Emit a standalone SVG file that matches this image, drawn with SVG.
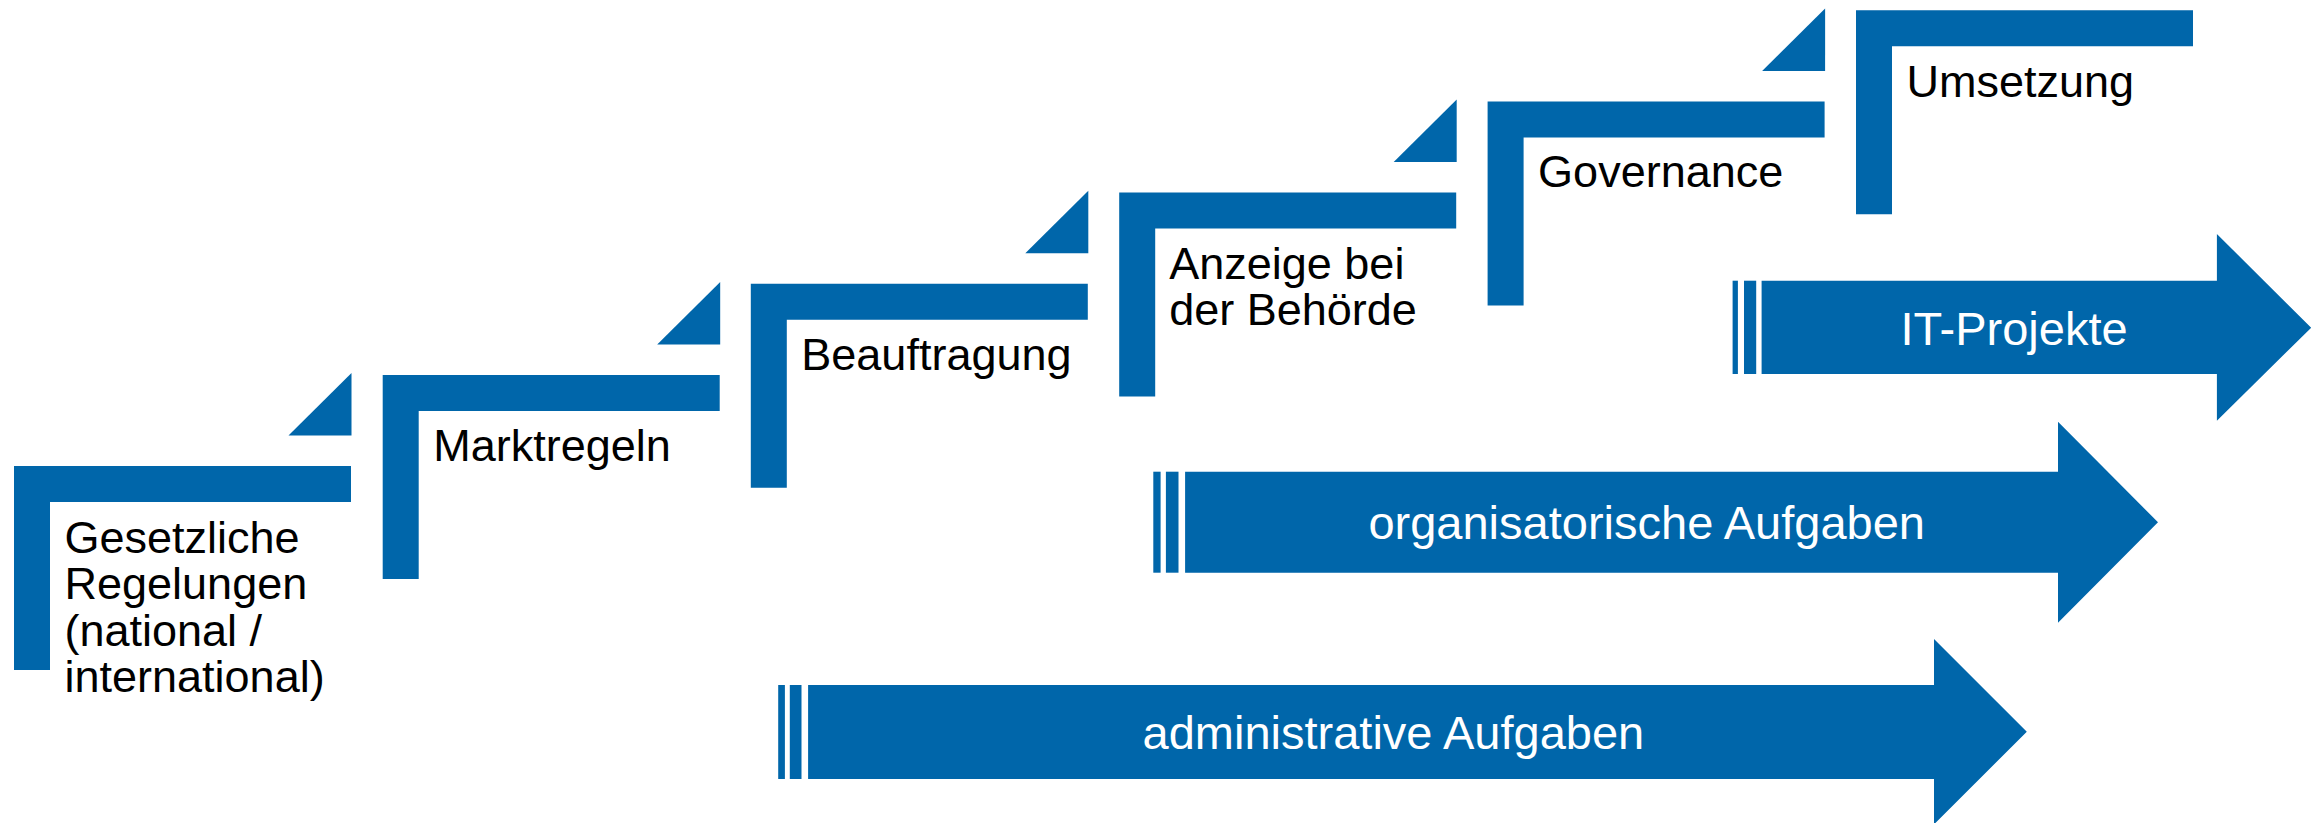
<svg xmlns="http://www.w3.org/2000/svg" width="2318" height="823" viewBox="0 0 2318 823">
<style>
.b{fill:#0066AA}
.st{font-family:"Liberation Sans",Arial,sans-serif;font-size:45px;fill:#000}
.at{font-family:"Liberation Sans",Arial,sans-serif;font-size:47px;fill:#fff;text-anchor:middle}
</style>
<defs>
<polygon id="L" points="0,0 337,0 337,36 36,36 36,204 0,204"/>
<polygon id="T" points="337.5,-93 337.5,-30.5 274.5,-30.5"/>
</defs>
<rect width="2318" height="823" fill="#fff"/>
<g id="step1" transform="translate(14,466)">
<use href="#L" class="b"/><use href="#T" class="b"/>
<text class="st" x="50.5" y="86.5">Gesetzliche</text>
<text class="st" x="50.5" y="133">Regelungen</text>
<text class="st" x="50.5" y="179.5">(national /</text>
<text class="st" x="50.5" y="226">international)</text>
</g>
<g id="step2" transform="translate(382.7,375)">
<use href="#L" class="b"/><use href="#T" class="b"/>
<text class="st" x="50.5" y="86">Marktregeln</text>
</g>
<g id="step3" transform="translate(750.8,283.8)">
<use href="#L" class="b"/><use href="#T" class="b"/>
<text class="st" x="50.5" y="86">Beauftragung</text>
</g>
<g id="step4" transform="translate(1119.2,192.6)">
<use href="#L" class="b"/><use href="#T" class="b"/>
<text class="st" x="50" y="86.5">Anzeige bei</text>
<text class="st" x="50" y="132.5">der Behörde</text>
</g>
<g id="step5" transform="translate(1487.6,101.4)">
<use href="#L" class="b"/><use href="#T" class="b"/>
<text class="st" x="50.5" y="86">Governance</text>
</g>
<g id="step6" transform="translate(1856,10.3)">
<use href="#L" class="b"/>
<text class="st" x="50.5" y="87">Umsetzung</text>
</g>
<g id="arrow-it">
<rect class="b" x="1732.6" y="280.7" width="5.3" height="93.3"/>
<rect class="b" x="1744" y="280.7" width="12.2" height="93.3"/>
<polygon class="b" points="1761.6,280.7 2216.9,280.7 2216.9,234 2311.2,327.7 2216.9,420.7 2216.9,374 1761.6,374"/>
<text class="at" x="2014" y="345">IT-Projekte</text>
</g>
<g id="arrow-org">
<rect class="b" x="1153.3" y="471.7" width="7.3" height="101"/>
<rect class="b" x="1165.9" y="471.7" width="12.6" height="101"/>
<polygon class="b" points="1185.1,471.7 2058,471.7 2058,421.7 2158,522.3 2058,622.7 2058,572.7 1185.1,572.7"/>
<text class="at" x="1646.7" y="539">organisatorische Aufgaben</text>
</g>
<g id="arrow-adm">
<rect class="b" x="778.2" y="685" width="6.7" height="94"/>
<rect class="b" x="789.8" y="685" width="11.7" height="94"/>
<polygon class="b" points="808.1,685 1934,685 1934,639 2026.8,731.7 1934,824.4 1934,779 808.1,779"/>
<text class="at" x="1393.4" y="749">administrative Aufgaben</text>
</g>
<g id="connectors"/>
</svg>
